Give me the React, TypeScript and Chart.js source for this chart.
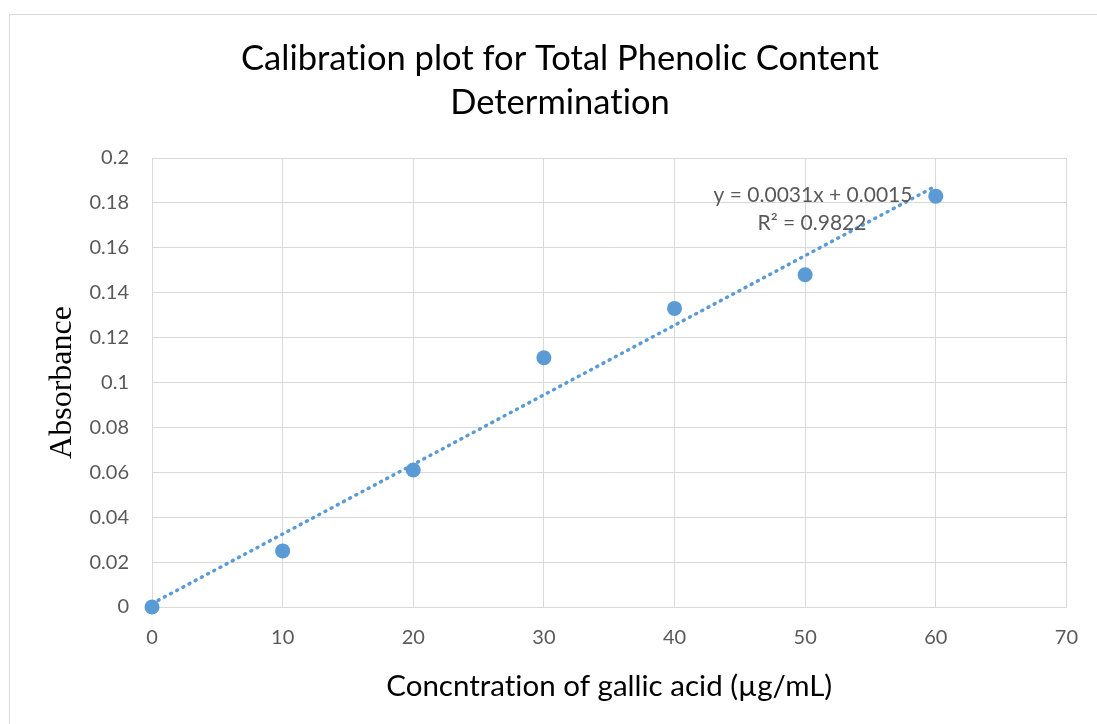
import React, { useEffect, useRef } from "react";
import { Chart, registerables } from "chart.js";

Chart.register(...registerables);

const concentrations = [0, 10, 20, 30, 40, 50, 60];
const absorbance = [0, 0.025, 0.061, 0.111, 0.133, 0.148, 0.183];
const trendX = [0, 60];
const trendY = [0.0015, 0.1875];
const titleLines = ["Calibration plot for Total Phenolic Content", "Determination"];
const equationLines = ["y = 0.0031x + 0.0015", "R² = 0.9822"];
const xTitle = "Concntration of gallic acid (µg/mL)";
const yTitle = "Absorbance";

const BLUE = "#5B9BD5";
const GRID = "#D9D9D9";
const TICK = "#595959";
const SANS = "Lato, 'Open Sans', sans-serif";

export default function App() {
  const ref = useRef<HTMLCanvasElement | null>(null);

  useEffect(() => {
    document.body.style.margin = "0";
    const canvas = ref.current!;
    const decor = {
      id: "decor",
      beforeDraw(chart: any) {
        const ctx = chart.ctx;
        ctx.save();
        ctx.fillStyle = "#ffffff";
        ctx.fillRect(0, 0, chart.width, chart.height);
        ctx.strokeStyle = GRID;
        ctx.lineWidth = 1;
        ctx.strokeRect(9.5, 14.5, 1200, 900);
        ctx.fillStyle = "#000000";
        ctx.font = `34.5px ${SANS}`;
        ctx.textAlign = "center";
        ctx.textBaseline = "middle";
        (ctx as any).letterSpacing = "0.01px";
        ctx.fillText(titleLines[0], 560, 59);
        ctx.fillText(titleLines[1], 560, 103);
        ctx.font = `29.5px ${SANS}`;
        const xs = chart.scales.x;
        ctx.fillText(xTitle, (xs.left + xs.right) / 2, 686);
        ctx.restore();
      },
      afterDatasetsDraw(chart: any) {
        const ctx = chart.ctx;
        ctx.save();
        ctx.fillStyle = TICK;
        ctx.font = `21px ${SANS}`;
        ctx.textAlign = "center";
        ctx.textBaseline = "middle";
        ctx.fillText(equationLines[0], 813, 195);
        ctx.fillText(equationLines[1], 812, 223);
        ctx.restore();
      },
    };

    const chart = new Chart(canvas, {
      type: "scatter",
      data: {
        datasets: [
          {
            type: "line",
            label: "Trend",
            data: trendX.map((x, i) => ({ x, y: trendY[i] })),
            borderColor: BLUE,
            borderWidth: 3.5,
            borderDash: [1, 6],
            borderCapStyle: "round",
            pointRadius: 0,
            fill: false,
            clip: false,
            order: 2,
          } as any,
          {
            label: "Absorbance",
            data: concentrations.map((x, i) => ({ x, y: absorbance[i] })),
            backgroundColor: BLUE,
            borderColor: BLUE,
            pointRadius: 7.5,
            pointHoverRadius: 7.5,
            borderWidth: 0,
            clip: false,
            order: 1,
          } as any,
        ],
      },
      options: {
        animation: false,
        responsive: false,
        maintainAspectRatio: false,
        layout: { padding: { top: 158, right: 28, left: 0, bottom: 0 } },
        plugins: {
          legend: { display: false },
          tooltip: { enabled: false },
          title: { display: false },
        },
        scales: {
          x: {
            type: "linear",
            min: 0,
            max: 70,
            ticks: { stepSize: 10, color: TICK, font: { family: SANS, size: 20 }, padding: 19 },
            grid: { color: GRID, lineWidth: 1, drawTicks: false },
            border: { color: GRID, width: 1 },
            title: { display: false, text: xTitle },
            afterFit(scale: any) {
              scale.height = 117;
            },
          },
          y: {
            type: "linear",
            min: 0,
            max: 0.2,
            ticks: {
              stepSize: 0.02,
              color: TICK,
              font: { family: SANS, size: 20 },
              padding: 23,
              callback: (v: any) => String(Number(Number(v).toFixed(2))),
            },
            grid: { color: GRID, lineWidth: 1, drawTicks: false },
            border: { color: GRID, width: 1 },
            title: {
              display: true,
              text: yTitle,
              color: "#000000",
              font: { family: "'Liberation Serif', 'Times New Roman', serif", size: 32 },
              padding: { top: 43, bottom: 0 },
            },
            afterFit(scale: any) {
              scale.width = 152;
            },
          },
        },
      },
      plugins: [decor],
    });
    return () => chart.destroy();
  }, []);

  return (
    <div style={{ width: 1097, height: 724 }}>
      <canvas ref={ref} width={1097} height={724} style={{ display: "block" }} />
    </div>
  );
}
